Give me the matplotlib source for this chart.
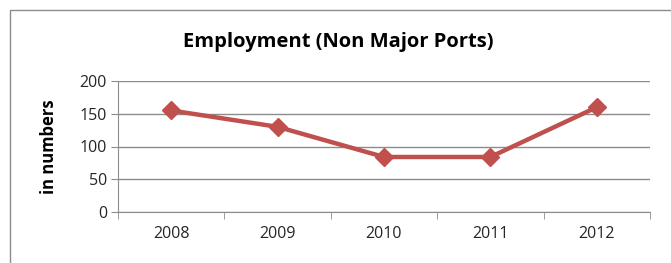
import matplotlib.pyplot as plt
from matplotlib.patches import Rectangle

years = ["2008", "2009", "2010", "2011", "2012"]
employment = [155, 130, 84, 84, 160]
y_ticks = [0, 50, 100, 150, 200]

W, H = 671, 263
fig = plt.figure(figsize=(W / 100, H / 100), dpi=100)
plt.rcParams["font.family"] = ["Open Sans", "DejaVu Sans"]

# chart-area frame (runs off the right and bottom edges)
fig.patches.append(Rectangle((10 / W, -0.1), 1.2, (H - 10) / H + 0.1,
                             transform=fig.transFigure, fill=False,
                             edgecolor="#8c8c8c", linewidth=1))

ax = fig.add_axes([118 / W, 1 - 212 / H, (650 - 118) / W, (212 - 81) / H])
x = range(len(years))
ax.plot(x, employment, color="#C0504D", linewidth=3.2, marker="D",
        markersize=9, zorder=3)

ax.set_xlim(-0.5, len(years) - 0.5)
ax.set_ylim(0, 200)
ax.set_yticks(y_ticks)
ax.set_xticks(x)
ax.set_xticklabels(years)
ax.set_xticks([i - 0.5 for i in range(len(years) + 1)], minor=True)
ax.tick_params(axis="x", which="major", length=0, pad=10)
ax.tick_params(axis="x", which="minor", length=5, color="#8c8c8c")
ax.tick_params(axis="y", length=5, color="#8c8c8c", pad=3)
ax.tick_params(labelsize=11.5, labelcolor="#262626")
ax.grid(axis="y", color="#8c8c8c", linewidth=1)
ax.set_axisbelow(True)
for s in ["top", "right"]:
    ax.spines[s].set_visible(False)
ax.spines["left"].set_color("#8c8c8c")
ax.spines["bottom"].set_color("#8c8c8c")

fig.text(338 / W, 1 - 42 / H, "Employment (Non Major Ports)", ha="center",
         va="center", fontsize=14.5, fontweight="bold", color="black")
fig.text(49 / W, 1 - 147 / H, "in numbers", rotation=90, ha="center",
         va="center", fontsize=12, fontweight="bold", color="black")

fig.savefig("out.png", dpi=100)
